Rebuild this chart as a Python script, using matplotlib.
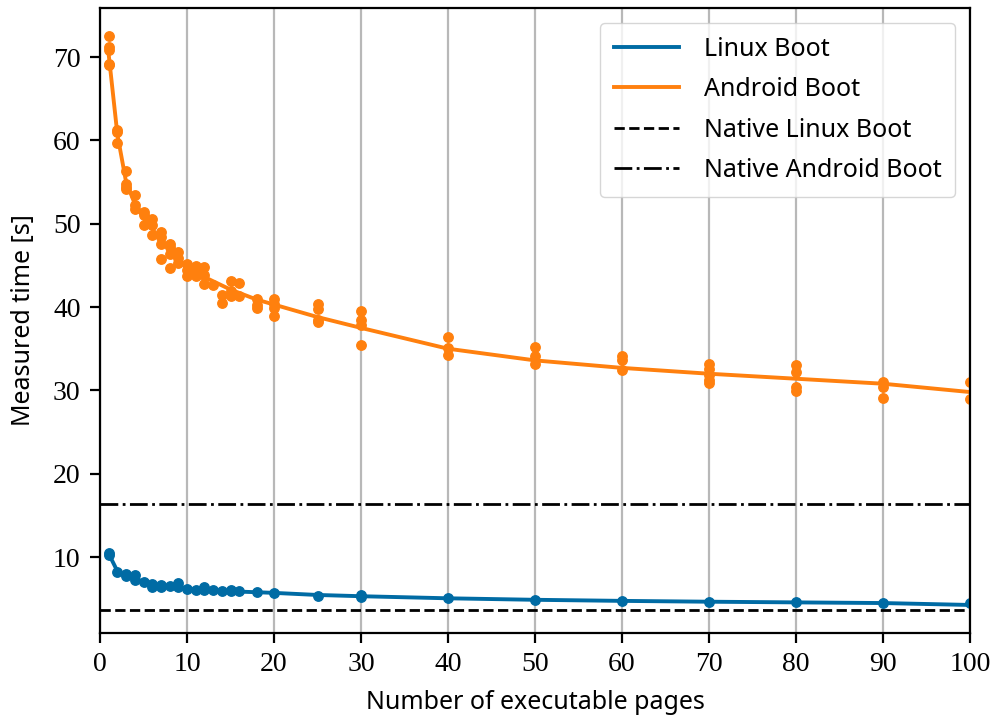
import numpy as np
import matplotlib
matplotlib.use('Agg')
import matplotlib.pyplot as plt

# measured points (pages -> seconds)
android_x = [1, 1, 1, 1, 1, 2, 2, 2, 3, 3, 3, 3, 4, 4, 4, 5, 5, 5,
             6, 6, 6, 7, 7, 7, 7, 8, 8, 8, 8, 9, 9, 9, 10, 10, 10,
             11, 11, 11, 12, 12, 12, 13, 14, 14, 15, 15, 15, 16, 16,
             18, 18, 18, 20, 20, 20, 20, 25, 25, 25, 25, 30, 30, 30, 30,
             40, 40, 40, 50, 50, 50, 60, 60, 60, 70, 70, 70, 70, 70,
             80, 80, 80, 80, 90, 90, 90, 100, 100]
android_y = [72.5, 71.2, 70.9, 69.2, 69.0, 61.3, 61.0, 59.7, 56.3, 54.8, 54.4, 54.2,
             53.5, 52.3, 51.8, 51.4, 51.0, 49.8, 50.6, 49.8, 48.6, 49.0, 48.4, 47.6, 45.8,
             47.6, 47.2, 46.4, 44.7, 46.6, 45.9, 45.3, 45.2, 44.4, 43.7,
             44.9, 44.2, 43.7, 44.8, 43.9, 42.8, 42.6, 41.5, 40.5, 43.1, 41.9, 41.3,
             42.9, 41.3, 41.0, 40.3, 39.9, 41.0, 40.4, 39.9, 38.9,
             40.4, 39.8, 38.4, 38.2, 39.5, 38.4, 37.9, 35.4,
             36.4, 35.1, 34.2, 35.2, 34.1, 33.2, 34.1, 33.6, 32.4,
             33.2, 32.6, 31.8, 31.2, 30.9, 33.0, 32.2, 30.4, 29.9,
             31.0, 30.4, 29.1, 31.0, 29.0]

linux_x = [1, 1, 2, 3, 3, 4, 4, 5, 6, 6, 7, 7, 8, 9, 9, 10, 11, 12, 12,
           13, 14, 15, 15, 16, 18, 20, 25, 30, 30, 40, 50, 60, 70, 80, 90, 100]
linux_y = [10.5, 10.2, 8.2, 8.0, 7.7, 7.8, 7.2, 7.0, 6.75, 6.4, 6.7, 6.4, 6.5, 6.9, 6.4,
           6.15, 6.0, 6.4, 6.0, 6.0, 5.9, 6.1, 5.9, 5.9, 5.75, 5.7, 5.35, 5.5, 5.2,
           5.05, 4.85, 4.72, 4.63, 4.55, 4.5, 4.43]

# fitted curves
fit_x = [1, 2, 3, 4, 5, 6, 7, 8, 9, 10, 11, 12, 13, 14, 15, 16, 18, 20,
         25, 30, 40, 50, 60, 70, 80, 90, 100]
android_fit = [70.3, 60.7, 55.0, 52.4, 50.7, 49.4, 48.0, 46.8, 45.8, 44.8, 44.2, 43.6,
               43.1, 42.6, 42.1, 41.7, 40.9, 40.3, 38.8, 37.5, 35.0, 33.6, 32.7,
               32.0, 31.4, 30.8, 29.8]
linux_fit = [10.4, 8.3, 7.7, 7.4, 7.0, 6.7, 6.55, 6.45, 6.35, 6.2, 6.1, 6.05, 6.0,
             5.95, 5.9, 5.85, 5.78, 5.7, 5.45, 5.3, 5.05, 4.87, 4.74, 4.64,
             4.56, 4.48, 4.25]

native_linux = 3.64
native_android = 16.36

blue = '#006BA4'
orange = '#FF800E'

plt.rcParams['font.family'] = ['Noto Sans', 'DejaVu Sans']

fig = plt.figure(figsize=(9.96, 7.2), dpi=100)
ax = fig.add_axes([0.1004, 0.121, 0.8736, 0.868])

ax.plot(fit_x, linux_fit, color=blue, lw=2.8, label='Linux Boot')
ax.plot(fit_x, android_fit, color=orange, lw=2.8, label='Android Boot')
ax.plot(linux_x, linux_y, 'o', color=blue, ms=6.8)
ax.plot(android_x, android_y, 'o', color=orange, ms=6.8)
ax.axhline(native_linux, color='black', ls='--', lw=2.0, label='Native Linux Boot')
ax.axhline(native_android, color='black', ls='-.', lw=2.0, label='Native Android Boot')

ax.set_xlim(0, 100)
ax.set_ylim(0.9, 75.9)
ax.set_xticks(np.arange(0, 101, 10))
ax.set_yticks(np.arange(10, 71, 10))
ax.grid(axis='x', color='#b8b8b8', lw=1.6)
ax.set_axisbelow(True)

for s in ax.spines.values():
    s.set_linewidth(1.6)
ax.tick_params(width=1.6, length=7, labelsize=20, pad=7)
for lab in ax.get_xticklabels() + ax.get_yticklabels():
    lab.set_family('Liberation Serif')

ax.set_xlabel('Number of executable pages', fontsize=18, labelpad=9)
ax.set_ylabel('Measured time [s]', fontsize=18, labelpad=12)

ax.legend(loc='upper right', fontsize=18, handlelength=2.6, borderpad=0.55,
          labelspacing=0.62, handletextpad=1.0, framealpha=0.8,
          borderaxespad=0.6)

fig.savefig('out.png', dpi=100)
